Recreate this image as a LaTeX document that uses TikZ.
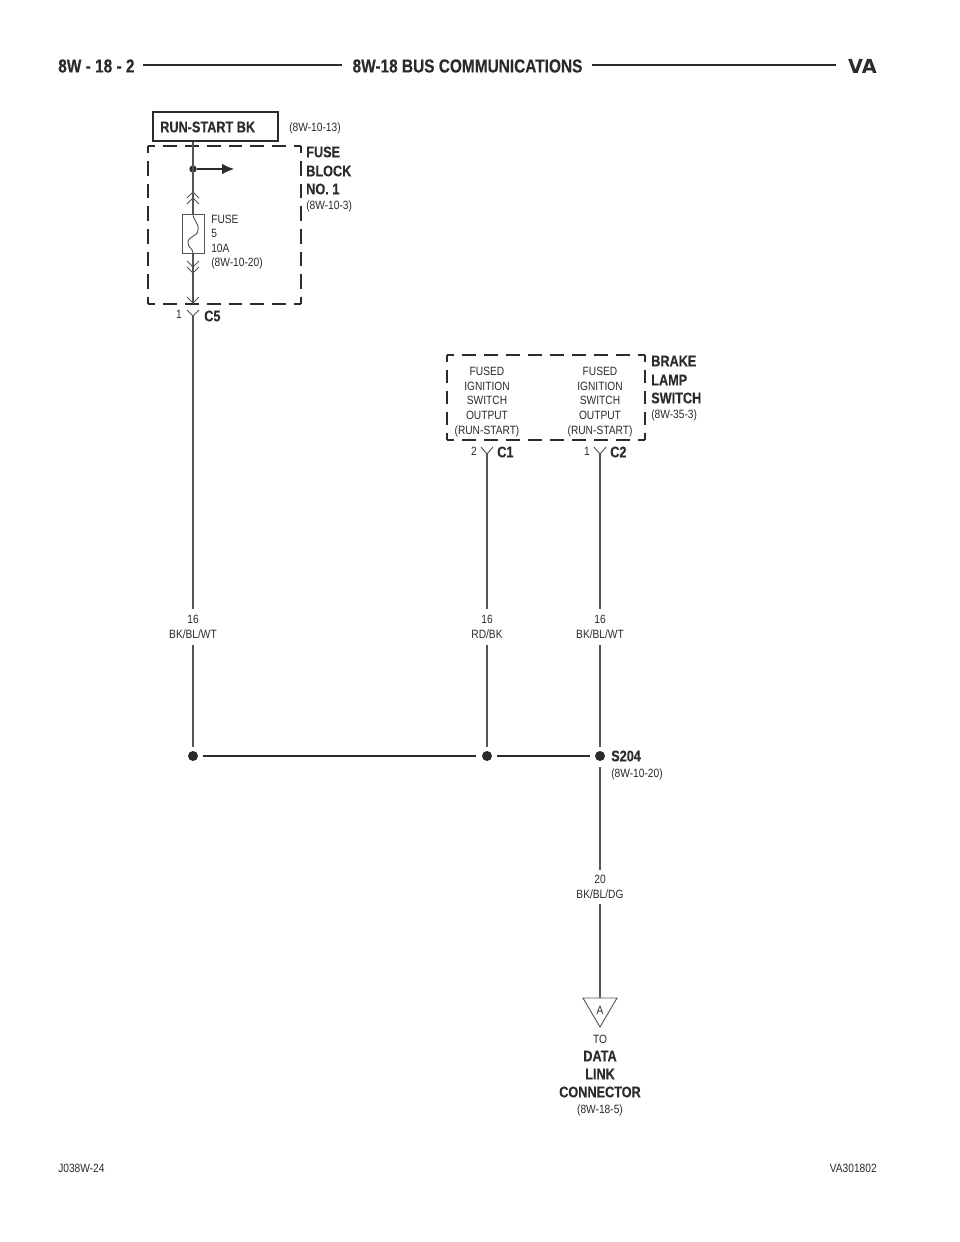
\documentclass[tikz,border=0pt]{standalone}
\usepackage{fontspec}
\setmainfont{Liberation Sans}
\newfontfamily\smallf[FakeStretch=0.85]{Liberation Sans}
\newfontfamily\boldf[FakeStretch=0.82,FakeBold=0.15]{Liberation Sans Bold}
\newfontfamily\vaf{DejaVu Sans Bold}
\usetikzlibrary{arrows.meta}
\definecolor{ink}{HTML}{2B2B2B}
\definecolor{wirec}{HTML}{555555}
\tikzset{
  smalltxt/.style={font=\smallf\fontsize{9}{11}\selectfont,text=ink,inner sep=0pt,align=center},
  boldtxt/.style={font=\boldf\fontsize{11.6}{14}\selectfont,text=ink,inner sep=0pt},
  titletxt/.style={font=\boldf\fontsize{14.1}{16}\selectfont,text=ink,inner sep=0pt},
  wire/.style={draw=wirec,line width=0.85pt},
  thin part/.style={draw=wirec,line width=0.7pt},
  busline/.style={draw=ink,line width=1.7pt},
  headline/.style={draw=ink,line width=1.5pt},
  splice/.style={circle,fill=ink,draw=none,minimum size=7.5pt,inner sep=0pt},
  dashside/.style={draw=ink,line width=1.6pt},
}
% side of a dashed box: start, end, length in px, number of periods
\newcommand{\dside}[4]{%
  \pgfmathsetmacro{\per}{#3/#4*0.75}%
  \pgfmathsetmacro{\das}{\per-6}%
  \pgfmathsetmacro{\pha}{\das/2}%
  \draw[dashside,dash pattern=on \das pt off 6pt,dash phase=\pha pt] #1 -- #2;}
\begin{document}
\begin{tikzpicture}[x=0.75pt,y=-0.75pt]
\useasboundingbox (0,0) rectangle (960,1242);
\fill[white] (0,0) rectangle (960,1242);
% header
\node[titletxt,anchor=west] (hl) at (58,66) {8W - 18 - 2};
\node[titletxt] (ht) at (467.5,66) {8W-18 BUS COMMUNICATIONS};
\node[font=\vaf\fontsize{14.5}{16}\selectfont,text=ink,inner sep=0pt,anchor=east] (hr) at (877,66) {VA};
\draw[headline] (143,65) -- (342,65);
\draw[headline] (592,65) -- (836,65);
% footer
\node[smalltxt,anchor=west] (fl) at (58,1168) {J038W-24};
\node[smalltxt,anchor=east] (fr) at (877,1168) {VA301802};
% run-start box
\node[draw=ink,line width=1.7pt,minimum width=93.75pt,minimum height=21.75pt,inner sep=0pt] (rs) at (215.5,126.5) {};
\node[boldtxt,anchor=west] (rst) at (160,127) {RUN-START BK};
\node[smalltxt,anchor=west] (rsr) at (289,128) {(8W-10-13)};
% fuse block dashed box
\dside{(148,146)}{(301,146)}{153}{7}
\dside{(148,304)}{(301,304)}{153}{7}
\dside{(148,146)}{(148,304)}{158}{7}
\dside{(301,146)}{(301,304)}{158}{7}
\node[boldtxt,anchor=west] (fb1) at (306,152) {FUSE};
\node[boldtxt,anchor=west] (fb2) at (306,171) {BLOCK};
\node[boldtxt,anchor=west] (fb3) at (306,189) {NO. 1};
\node[smalltxt,anchor=west] (fb4) at (306,206) {(8W-10-3)};
% fuse
\node[draw=wirec,line width=0.7pt,minimum width=16.5pt,minimum height=29.25pt,inner sep=0pt] (fuse) at (193,233.5) {};
\draw[thin part] (fuse.north) .. controls (193,221) and (199,222) .. (198,230) .. controls (197,238) and (188,235) .. (188,243) .. controls (188,248) and (193,248) .. (fuse.south);
\node[splice,minimum size=5.5pt] (dot1) at (193,169) {};
\coordinate (arrowend) at (234,169);
\draw[wire,draw=ink,-{Latex[length=9pt,width=8pt]}] (dot1) -- (arrowend);
\draw[wire] (rs.south -| dot1) -- (fuse.north);
\draw[wire] (fuse.south) -- (193,303);
\draw[thin part] (187,198) -- (193,192) -- (199,198);
\draw[thin part] (187,204) -- (193,198) -- (199,204);
\draw[thin part] (187,261) -- (193,267) -- (199,261);
\draw[thin part] (187,267) -- (193,273) -- (199,267);
\draw[thin part] (187,297) -- (193,303) -- (199,297);
% C5
\draw[thin part] (187,310) -- (193,316) -- (199,310);
\node[smalltxt,anchor=east] (n1) at (182,314) {1};
\node[boldtxt,anchor=west] (c5) at (204,316) {C5};
% brake lamp switch dashed box
\dside{(447,355)}{(645,355)}{198}{9}
\dside{(447,440)}{(645,440)}{198}{9}
\dside{(447,355)}{(447,440)}{85}{4}
\dside{(645,355)}{(645,440)}{85}{4}
\node[boldtxt,anchor=west] (bl1) at (651,361) {BRAKE};
\node[boldtxt,anchor=west] (bl2) at (651,380) {LAMP};
\node[boldtxt,anchor=west] (bl3) at (651,398) {SWITCH};
\node[smalltxt,anchor=west] (bl4) at (651,415) {(8W-35-3)};
\node[smalltxt,anchor=north] (out1) at (487,367) {FUSED\\[0pt]IGNITION\\[0pt]SWITCH\\[0pt]OUTPUT\\[0pt](RUN-START)};
\node[smalltxt,anchor=north] (out2) at (600,367) {FUSED\\[0pt]IGNITION\\[0pt]SWITCH\\[0pt]OUTPUT\\[0pt](RUN-START)};
% C1 C2
\draw[thin part] (481,447) -- (487,454) -- (493,447);
\draw[thin part] (594,447) -- (600,454) -- (606,447);
\node[smalltxt,anchor=east] (n2) at (477,451) {2};
\node[boldtxt,anchor=west] (c1) at (497,452) {C1};
\node[smalltxt,anchor=east] (n3) at (590,451) {1};
\node[boldtxt,anchor=west] (c2) at (610,452) {C2};
% splices
\node[splice] (s1) at (193,756) {};
\node[splice] (s2) at (487,756) {};
\node[splice] (s3) at (600,756) {};
\draw[busline] (203,756) -- (476,756);
\draw[busline] (497,756) -- (590,756);
\node[boldtxt,anchor=west] (s204) at (611,756) {S204};
\node[smalltxt,anchor=west] (s204r) at (611,774) {(8W-10-20)};
% wire labels
\node[smalltxt] (w1) at (193,627) {16\\BK/BL/WT};
\node[smalltxt] (w2) at (487,627) {16\\RD/BK};
\node[smalltxt] (w3) at (600,627) {16\\BK/BL/WT};
\node[smalltxt] (w4) at (600,887) {20\\BK/BL/DG};
% wires
\draw[wire] (193,316) -- (193,609);
\draw[wire] (193,645) -- (193,747);
\draw[wire] (487,454) -- (487,609);
\draw[wire] (487,645) -- (487,747);
\draw[wire] (600,454) -- (600,609);
\draw[wire] (600,645) -- (600,747);
\draw[wire] (600,767) -- (600,870);
\draw[wire] (600,904) -- (600,998);
% connector A
\draw[thin part,line join=miter] (583,998) -- (617,998) -- (600,1027) -- cycle;
\node[smalltxt] (a) at (600,1010) {A};
\node[smalltxt] (to) at (600,1039) {TO};
\node[boldtxt] (d1) at (600,1056) {DATA};
\node[boldtxt] (d2) at (600,1074) {LINK};
\node[boldtxt] (d3) at (600,1092) {CONNECTOR};
\node[smalltxt] (d4) at (600,1110) {(8W-18-5)};
\node[smalltxt,anchor=west] (fz1) at (211,219) {FUSE};
\node[smalltxt,anchor=west] (fz2) at (211,233) {5};
\node[smalltxt,anchor=west] (fz3) at (211,248) {10A};
\node[smalltxt,anchor=west] (fz4) at (211,263) {(8W-10-20)};
\end{tikzpicture}
\end{document}
